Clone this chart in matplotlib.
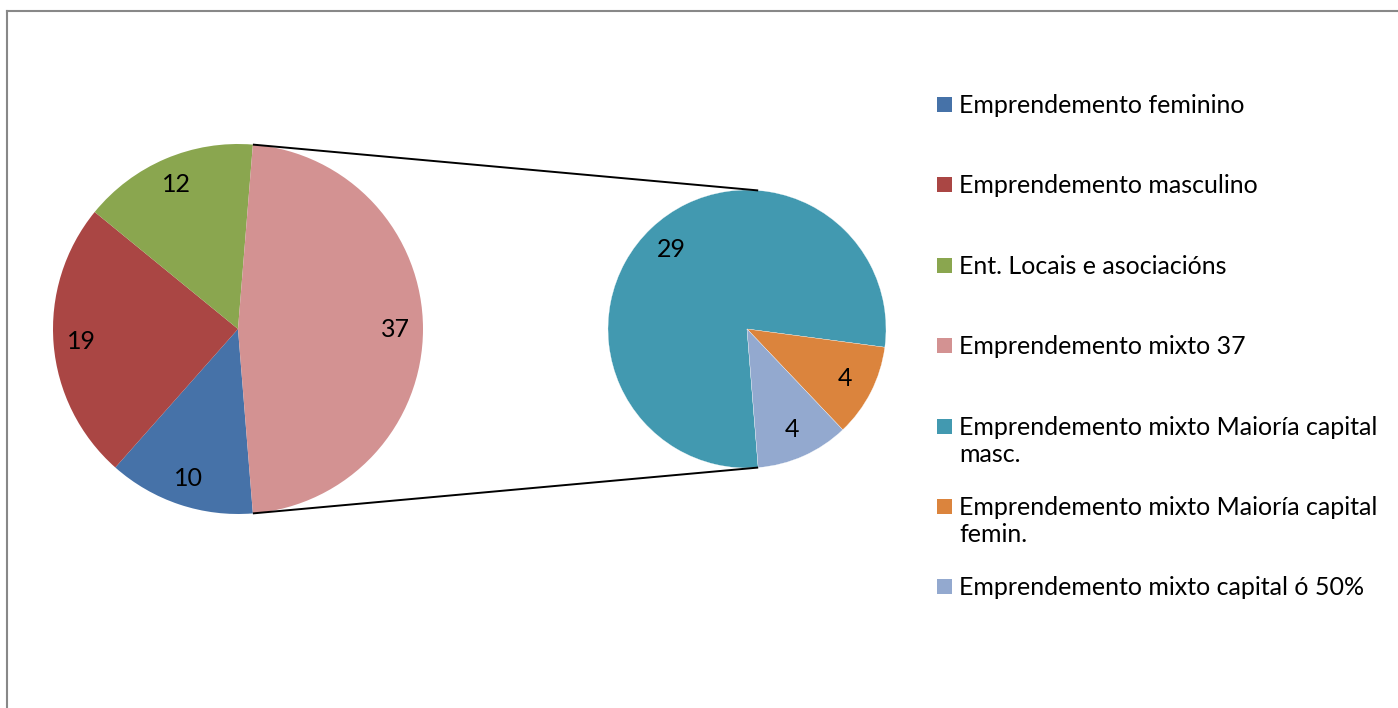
import matplotlib
matplotlib.use("Agg")
import matplotlib.pyplot as plt
import numpy as np
from matplotlib.patches import Rectangle

W, H = 1398, 708

main_labels = ["Emprendemento feminino", "Emprendemento masculino",
               "Ent. Locais e asociacións", "Emprendemento mixto 37"]
main_values = [10, 19, 12, 37]
main_colors = ["#4672A8", "#AA4644", "#8AA64F", "#D39292"]

sub_labels = ["Emprendemento mixto Maioría capital\nmasc.",
              "Emprendemento mixto Maioría capital\nfemin.",
              "Emprendemento mixto capital ó 50%"]
sub_values = [29, 4, 4]
sub_colors = ["#4299B0", "#DB843D", "#93A9CF"]

plt.rcParams['font.family'] = ['Lato', 'DejaVu Sans']
FS = 18

fig = plt.figure(figsize=(W / 100, H / 100), dpi=100)
ax = fig.add_axes([0, 0, 1, 1])

def Y(y):
    # pixel rows from the top -> data y
    return H - y

# the split wedge (last of main) is centred on the right side
half = 180.0 * main_values[-1] / sum(main_values)
start = -half

c1, r1 = (238, Y(329)), 185
c2, r2 = (747, Y(329)), 139

def counts(vals):
    tot = sum(vals)
    return lambda p: f"{round(p * tot / 100):d}"

ax.pie(main_values, colors=main_colors, startangle=start, counterclock=False,
       center=c1, radius=r1, autopct=counts(main_values), pctdistance=0.85,
       textprops={"fontsize": FS, "color": "black"},
       wedgeprops={"linewidth": 0}, frame=True)
ax.pie(sub_values, colors=sub_colors, startangle=start, counterclock=False,
       center=c2, radius=r2, autopct=counts(sub_values), pctdistance=0.79,
       textprops={"fontsize": FS, "color": "black"},
       wedgeprops={"edgecolor": "white", "linewidth": 0.2}, frame=True)

# connector lines between the two pies
a = np.radians(half)
for s in (1, -1):
    ax.plot([c1[0] + r1 * np.cos(a), c2[0] + r2 * np.cos(a)],
            [c1[1] + s * r1 * np.sin(a), c2[1] + s * r2 * np.sin(a)],
            color="black", lw=1.4, solid_capstyle="butt")

# legend, Excel style: fixed pitch per entry, wrapped lines 27 px apart
leg_labels = main_labels + sub_labels
leg_colors = main_colors + sub_colors
for i, (lab, col) in enumerate(zip(leg_labels, leg_colors)):
    base = 113 + 80.4 * i
    ax.add_patch(Rectangle((937, Y(base - 1)), 15, 15, facecolor=col, edgecolor="none"))
    for j, line in enumerate(lab.split("\n")):
        ax.text(959, Y(base + 27 * j), line, fontsize=FS, va="baseline",
                ha="left", color="black")

# chart border (clipped at right / bottom)
ax.plot([7, W + 5], [Y(11), Y(11)], color="#888888", lw=1.5)
ax.plot([7, 7], [Y(11), -5], color="#888888", lw=1.5)

ax.set_xlim(0, W)
ax.set_ylim(0, H)
ax.set_aspect("equal")
ax.axis("off")

fig.savefig("out.png", dpi=100)
